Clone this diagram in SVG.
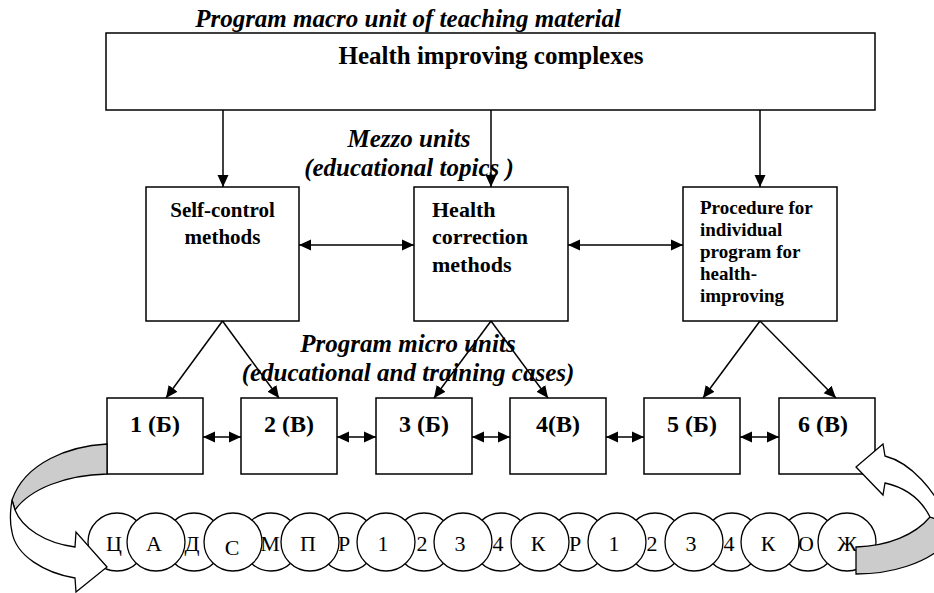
<svg xmlns="http://www.w3.org/2000/svg" width="934" height="593" viewBox="0 0 934 593">
<style>
.box{fill:#fff;stroke:#000;stroke-width:1.5}
.ln{fill:none;stroke:#000;stroke-width:1.5}
text{font-family:'Liberation Serif','DejaVu Serif',serif;fill:#000}
.it{font-weight:bold;font-style:italic;font-size:25px;text-anchor:middle}
.b{font-weight:bold}
.cir{fill:#fff;stroke:#000;stroke-width:1.3}
.cl{font-size:22px;text-anchor:middle}
.ar{stroke:#000;stroke-width:1.3;stroke-linejoin:miter}
</style>
<defs>
<marker id="ah" viewBox="0 0 12 12" refX="12" refY="6" markerWidth="12" markerHeight="12" markerUnits="userSpaceOnUse" orient="auto-start-reverse">
<path d="M0,0.5 L12,6 L0,11.5 Z" fill="#000"/>
</marker>
</defs>
<rect width="934" height="593" fill="#fff"/>

<text class="it" x="408" y="27">Program macro unit of teaching material</text>

<g id="macro">
<rect class="box" x="106" y="33" width="769" height="77"/>
<text class="b" x="491" y="64" font-size="25" text-anchor="middle">Health improving complexes</text>
</g>

<g id="mezzo-label">
<text class="it" x="409" y="147">Mezzo units</text>
<text class="it" x="409" y="176">(educational topics )</text>
</g>

<g id="self-control">
<rect class="box" x="146" y="187" width="153" height="134"/>
<text class="b" x="222.5" y="217" font-size="21" text-anchor="middle">Self-control</text>
<text class="b" x="222.5" y="244" font-size="21" text-anchor="middle">methods</text>
</g>

<g id="health-correction">
<rect class="box" x="414" y="187" width="154" height="134"/>
<text class="b" x="432" y="217" font-size="22">Health</text>
<text class="b" x="432" y="244" font-size="22">correction</text>
<text class="b" x="432" y="272" font-size="22">methods</text>
</g>

<g id="procedure">
<rect class="box" x="683" y="187" width="154" height="134"/>
<text class="b" x="700" y="214" font-size="19">Procedure for</text>
<text class="b" x="700" y="236" font-size="19">individual</text>
<text class="b" x="700" y="258" font-size="19">program for</text>
<text class="b" x="700" y="280" font-size="19">health-</text>
<text class="b" x="700" y="302" font-size="19">improving</text>
</g>

<g id="micro-1"><rect class="box" x="107" y="398" width="96" height="76"/><text class="b" x="155" y="432" font-size="24" text-anchor="middle">1 (Б)</text></g>
<g id="micro-2"><rect class="box" x="241" y="398" width="96" height="76"/><text class="b" x="289" y="432" font-size="24" text-anchor="middle">2 (В)</text></g>
<g id="micro-3"><rect class="box" x="376" y="398" width="96" height="76"/><text class="b" x="424" y="432" font-size="24" text-anchor="middle">3 (Б)</text></g>
<g id="micro-4"><rect class="box" x="510" y="398" width="96" height="76"/><text class="b" x="558" y="432" font-size="24" text-anchor="middle">4(В)</text></g>
<g id="micro-5"><rect class="box" x="644" y="398" width="96" height="76"/><text class="b" x="692" y="432" font-size="24" text-anchor="middle">5 (Б)</text></g>
<g id="micro-6"><rect class="box" x="779" y="398" width="96" height="76"/><text class="b" x="823" y="432" font-size="24" text-anchor="middle">6 (В)</text></g>

<g id="connectors">
<line class="ln" x1="223" y1="110" x2="223" y2="187" marker-end="url(#ah)"/>
<line class="ln" x1="491" y1="110" x2="491" y2="187" marker-end="url(#ah)"/>
<line class="ln" x1="760" y1="110" x2="760" y2="187" marker-end="url(#ah)"/>
<line class="ln" x1="299" y1="245" x2="414" y2="245" marker-start="url(#ah)" marker-end="url(#ah)"/>
<line class="ln" x1="568" y1="245" x2="683" y2="245" marker-start="url(#ah)" marker-end="url(#ah)"/>
<line class="ln" x1="222.5" y1="321" x2="166" y2="398" marker-end="url(#ah)"/>
<line class="ln" x1="222.5" y1="321" x2="279" y2="398" marker-end="url(#ah)"/>
<line class="ln" x1="491" y1="321" x2="434" y2="398" marker-end="url(#ah)"/>
<line class="ln" x1="491" y1="321" x2="548" y2="398" marker-end="url(#ah)"/>
<line class="ln" x1="760" y1="321" x2="703" y2="398" marker-end="url(#ah)"/>
<line class="ln" x1="760" y1="321" x2="836" y2="398" marker-end="url(#ah)"/>
<line class="ln" x1="203" y1="437" x2="241" y2="437" marker-start="url(#ah)" marker-end="url(#ah)"/>
<line class="ln" x1="337" y1="437" x2="376" y2="437" marker-start="url(#ah)" marker-end="url(#ah)"/>
<line class="ln" x1="472" y1="437" x2="510" y2="437" marker-start="url(#ah)" marker-end="url(#ah)"/>
<line class="ln" x1="606" y1="437" x2="644" y2="437" marker-start="url(#ah)" marker-end="url(#ah)"/>
<line class="ln" x1="740" y1="437" x2="779" y2="437" marker-start="url(#ah)" marker-end="url(#ah)"/>
</g>

<g id="micro-label">
<text class="it" x="408" y="352">Program micro units</text>
<text class="it" x="408" y="381">(educational and training cases)</text>
</g>

<g id="chain">
<circle class="cir" cx="117" cy="542" r="29"/>
<circle class="cir" cx="194" cy="542" r="29"/>
<circle class="cir" cx="271" cy="542" r="29"/>
<circle class="cir" cx="347" cy="542" r="29"/>
<circle class="cir" cx="424" cy="542" r="29"/>
<circle class="cir" cx="501" cy="542" r="29"/>
<circle class="cir" cx="578" cy="542" r="29"/>
<circle class="cir" cx="655" cy="542" r="29"/>
<circle class="cir" cx="732" cy="542" r="29"/>
<circle class="cir" cx="808" cy="542" r="29"/>
<circle class="cir" cx="156" cy="542" r="29"/>
<circle class="cir" cx="233" cy="542" r="29"/>
<circle class="cir" cx="310" cy="542" r="29"/>
<circle class="cir" cx="386" cy="542" r="29"/>
<circle class="cir" cx="463" cy="542" r="29"/>
<circle class="cir" cx="540" cy="542" r="29"/>
<circle class="cir" cx="617" cy="542" r="29"/>
<circle class="cir" cx="694" cy="542" r="29"/>
<circle class="cir" cx="770" cy="542" r="29"/>
<circle class="cir" cx="847" cy="542" r="29"/>
<text class="cl" x="114" y="551">Ц</text>
<text class="cl" x="154" y="551">А</text>
<text class="cl" x="192" y="551">Д</text>
<text class="cl" x="232" y="555">С</text>
<text class="cl" x="270" y="551">М</text>
<text class="cl" x="308" y="551">П</text>
<text class="cl" x="344" y="551">Р</text>
<text class="cl" x="383" y="551">1</text>
<text class="cl" x="422" y="551">2</text>
<text class="cl" x="460" y="551">3</text>
<text class="cl" x="498" y="551">4</text>
<text class="cl" x="538" y="551">К</text>
<text class="cl" x="575" y="551">Р</text>
<text class="cl" x="614" y="551">1</text>
<text class="cl" x="652" y="551">2</text>
<text class="cl" x="691" y="551">3</text>
<text class="cl" x="729" y="551">4</text>
<text class="cl" x="768" y="551">К</text>
<text class="cl" x="806" y="551">О</text>
<text class="cl" x="847" y="551">Ж</text>
</g>

<g id="arrow-left">
<path class="ar" fill="#cccccc" d="M107,444 C70,446 25,462 12,500 L15,510 C30,489 65,475 107,474 Z"/>
<path class="ar" fill="#fff" d="M12,500 C10,512 10,524 12,532 C16,556 45,573 75,578 L76,592 L107,567 L76,532 L75,547 C45,543 22,528 15,510 Z"/>
</g>

<g id="arrow-right">
<path class="ar" fill="#cccccc" d="M856,547 C888,546 915,535 930,517 L945,520 L945,545 C925,563 893,574 856,574 Z"/>
<path class="ar" fill="#fff" d="M883,444 L856,467 L883,495 L885,483 C903,487 920,497 930,517 L945,522 L945,515 C935,492 912,463 885,456 Z"/>
</g>
</svg>
